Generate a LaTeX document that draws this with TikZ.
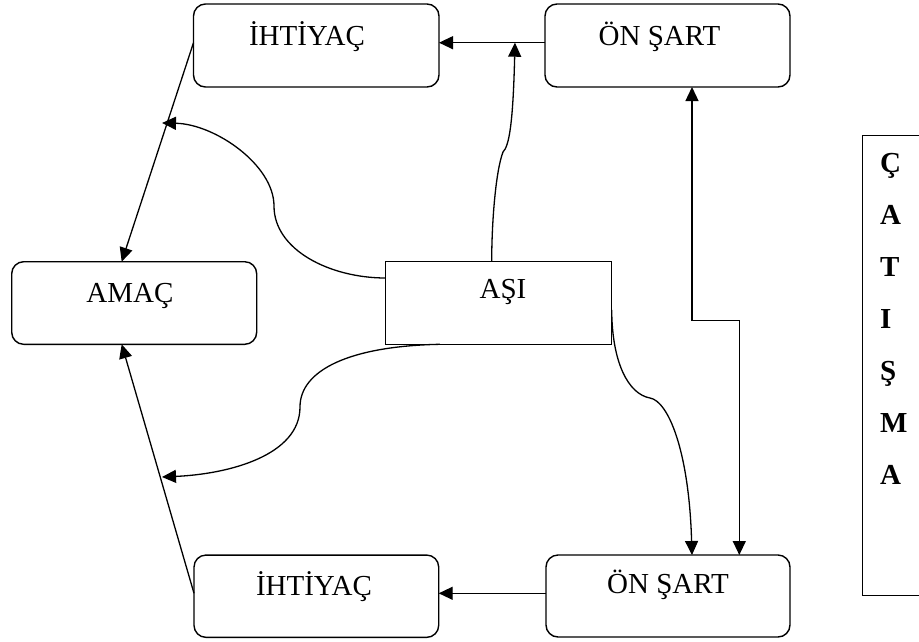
\documentclass[tikz,border=0pt]{standalone}
\usepackage{fontspec}
\setmainfont{Liberation Serif}
\usetikzlibrary{arrows.meta}
\begin{document}
\begin{tikzpicture}[x=1pt,y=-1pt,
  box/.style={draw, line width=1.4pt, rounded corners=12pt, inner sep=0pt, outer sep=0pt},
  plainbox/.style={draw, line width=1.4pt, inner sep=0pt, outer sep=0pt},
  lbl/.style={font=\fontsize{29}{34}\selectfont, inner sep=0pt, anchor=base},
  boldlbl/.style={font=\fontsize{29}{34}\selectfont\bfseries, inner sep=0pt, anchor=base west},
  conn/.style={line width=1.3pt},
  arr/.style={conn, -{Triangle[length=14pt,width=13pt]}},
  dbl/.style={conn, {Triangle[length=14pt,width=13pt]}-{Triangle[length=14pt,width=13pt]}},
]
\useasboundingbox (0,0) rectangle (919,641);

% boxes
\node[box, minimum width=245.5pt, minimum height=83pt] (ihtT) at (316.25,45.5) {};
\node[box, minimum width=245pt, minimum height=83pt] (onT) at (667.5,45.5) {};
\node[box, minimum width=245pt, minimum height=82.6pt] (amac) at (134.2,303) {};
\node[plainbox, minimum width=226pt, minimum height=82.6pt] (asi) at (498.7,303) {};
\node[box, minimum width=244.7pt, minimum height=82.3pt] (ihtB) at (316.35,596.2) {};
\node[box, minimum width=244pt, minimum height=82pt] (onB) at (668,596) {};

% box texts
\node[lbl] (ihtTt) at (307,45) {İHTİYAÇ};
\node[lbl] (onTt) at (659.5,45) {ÖN ŞART};
\node[lbl] (amact) at (130,302.7) {AMAÇ};
\node[lbl] (asit) at (503,298.3) {AŞI};
\node[lbl] (ihtBt) at (314,595) {İHTİYAÇ};
\node[lbl] (onBt) at (668,593.3) {ÖN ŞART};

% side box with the vertical word
\node[draw, line width=1.4pt, inner sep=0pt, anchor=north west,
      minimum width=80pt, minimum height=460pt] (cat) at (862,135) {};
\foreach \ch [count=\i from 0] in {Ç,A,T,I,Ş,M,A}
  \node[boldlbl] (cat\i) at (880,{172+52*\i}) {\ch};

% attachment points
\coordinate (rowT) at (0,42.7);
\coordinate (rowB) at (0,593.3);
\coordinate (colA) at (121.7,0);
\coordinate (v1) at (692,0);
\coordinate (knee) at (739.3,320.7);
\coordinate (cU) at (491.7,0);
\coordinate (wL) at (0,278);
\coordinate (sL) at (440,0);
\coordinate (eR) at (0,310);
\coordinate (jT) at (515,42.7);
\coordinate (jL1) at (162,123);
\coordinate (jL2) at (162,477);

% straight connectors
\draw[arr] (onT.west |- rowT) -- (ihtT.east |- rowT);
\draw[arr] (ihtT.west |- rowT) -- (amac.north -| colA);
\draw[arr] (onB.west |- rowB) -- (ihtB.east |- rowB);
\draw[arr] (ihtB.west |- rowB) -- (amac.south -| colA);
\draw[dbl] (onT.south -| v1) |- (knee) -- (onB.north -| knee);

% curved connectors out of AŞI
\draw[arr] (asi.north -| cU) .. controls (491.7,220) and (496,170) .. (503,152)
  .. controls (509,146) and (513,125) .. (jT);
\draw[arr] (asi.west |- wL) .. controls (330,278) and (274,250) .. (274,206)
  .. controls (274,165) and (215,124) .. (jL1);
\draw[arr] (asi.south -| sL) .. controls (350,346) and (300,370) .. (300,407)
  .. controls (300,455) and (230,474) .. (jL2);
\draw[arr] (asi.east |- eR) .. controls (612,362) and (628,394) .. (650,398)
  .. controls (668,401) and (689,450) .. (onB.north -| v1);
\end{tikzpicture}
\end{document}
